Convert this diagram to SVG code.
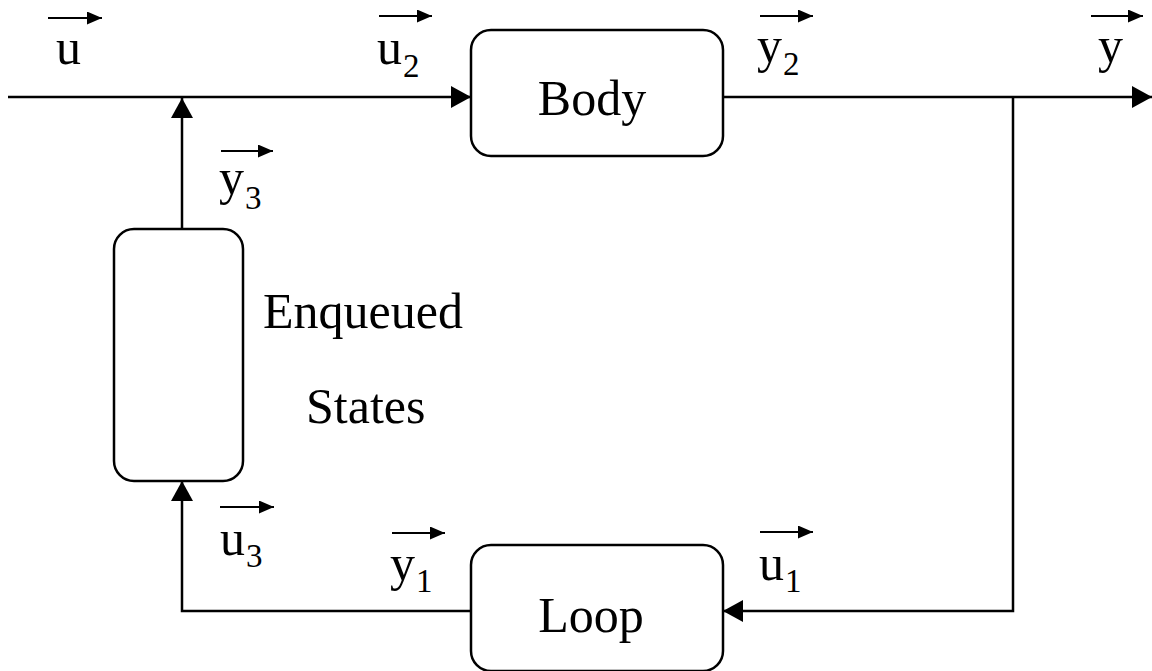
<svg xmlns="http://www.w3.org/2000/svg" width="1152" height="671" viewBox="0 0 1152 671">
<style>
.box{fill:#fff;stroke:#000;stroke-width:2.5}
.wire{fill:none;stroke:#000;stroke-width:2.5}
.vec{fill:none;stroke:#000;stroke-width:2.2}
text{font-family:"Liberation Serif","Times New Roman",serif;fill:#000}
.t{font-size:50px}
.s{font-size:33px}
</style>
<defs>
<marker id="big" markerUnits="userSpaceOnUse" viewBox="0 0 20 22" refX="20" refY="11" markerWidth="20" markerHeight="22" orient="auto">
<path d="M0,0 L20,11 L0,22 Z" fill="#000"/>
</marker>
<marker id="small" markerUnits="userSpaceOnUse" viewBox="0 0 15 13" refX="15" refY="6.5" markerWidth="15" markerHeight="13" orient="auto">
<path d="M0,0 L15,6.5 L0,13 Z" fill="#000"/>
</marker>
</defs>
<rect width="1152" height="671" fill="#fff"/>
<g id="connectors">
<path class="wire" d="M8,97 H471" marker-end="url(#big)"/>
<path class="wire" d="M182,229 V98" marker-end="url(#big)"/>
<path class="wire" d="M723,97 H1152" marker-end="url(#big)"/>
<path class="wire" d="M1013,97 V611 H723" marker-end="url(#big)"/>
<path class="wire" d="M471,611 H182 V481" marker-end="url(#big)"/>
</g>
<g id="body">
<rect class="box" x="471" y="30" width="252" height="126" rx="20"/>
<text class="t" x="592" y="115" text-anchor="middle">Body</text>
</g>
<g id="loop">
<rect class="box" x="471" y="545" width="252" height="126" rx="20"/>
<text class="t" x="591" y="632" text-anchor="middle">Loop</text>
</g>
<g id="enqueued">
<rect class="box" x="114" y="229" width="129" height="252" rx="20"/>
<text class="t" x="263" y="328">Enqueued</text>
<text class="t" x="306" y="423">States</text>
</g>
<g id="labels">
<path class="vec" d="M48,18 H102" marker-end="url(#small)"/>
<text class="t" x="56" y="64">u</text>
<path class="vec" d="M379,16 H432" marker-end="url(#small)"/>
<text class="t" x="377" y="64">u</text><text class="s" x="403" y="77">2</text>
<path class="vec" d="M760,16 H813" marker-end="url(#small)"/>
<text class="t" x="757" y="62">y</text><text class="s" x="783" y="75">2</text>
<path class="vec" d="M1091,16 H1143" marker-end="url(#small)"/>
<text class="t" x="1098" y="62">y</text>
<path class="vec" d="M221,151 H273" marker-end="url(#small)"/>
<text class="t" x="219" y="194">y</text><text class="s" x="245" y="209">3</text>
<path class="vec" d="M220,507 H274" marker-end="url(#small)"/>
<text class="t" x="220" y="555">u</text><text class="s" x="246" y="567">3</text>
<path class="vec" d="M392,533 H445" marker-end="url(#small)"/>
<text class="t" x="390" y="580">y</text><text class="s" x="416" y="592">1</text>
<path class="vec" d="M760,532 H813" marker-end="url(#small)"/>
<text class="t" x="759" y="580">u</text><text class="s" x="785" y="592">1</text>
</g>
</svg>
